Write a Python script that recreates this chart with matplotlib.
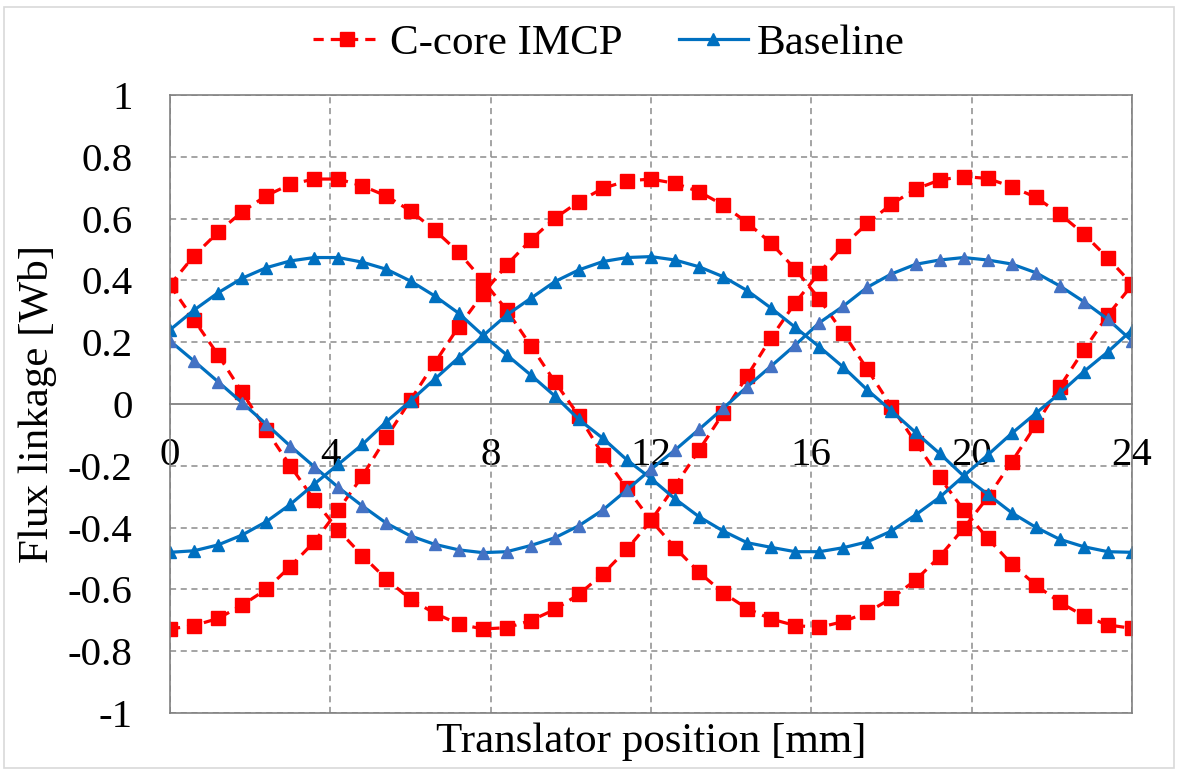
import numpy as np
import matplotlib
matplotlib.use("Agg")
import matplotlib.pyplot as plt
from matplotlib.patches import Rectangle

plt.rcParams['font.family'] = 'serif'
plt.rcParams['font.serif'] = ['Liberation Serif', 'DejaVu Serif']
plt.rcParams['axes.unicode_minus'] = False
SERIF = 'Liberation Serif'

# Translator position [mm], one sample every 0.6 mm
position = np.linspace(0, 24, 41)

# C-core IMCP flux linkage, three phases [Wb]
imcp_a = [-0.728, -0.717, -0.694, -0.651, -0.600, -0.526, -0.446, -0.343, -0.233, -0.108,
          0.013, 0.132, 0.250, 0.355, 0.450, 0.531, 0.601, 0.655, 0.698, 0.722,
          0.728, 0.714, 0.687, 0.644, 0.587, 0.520, 0.436, 0.340, 0.229, 0.112,
          -0.009, -0.125, -0.237, -0.343, -0.435, -0.518, -0.586, -0.642, -0.686, -0.715,
          -0.726]
imcp_b = [0.385, 0.480, 0.556, 0.622, 0.674, 0.711, 0.728, 0.728, 0.706, 0.673,
          0.625, 0.563, 0.491, 0.401, 0.304, 0.189, 0.072, -0.038, -0.165, -0.273,
          -0.377, -0.465, -0.545, -0.611, -0.662, -0.696, -0.717, -0.723, -0.704, -0.674,
          -0.629, -0.570, -0.494, -0.402, -0.302, -0.187, -0.068, 0.056, 0.175, 0.288,
          0.385]
imcp_c = [0.385, 0.272, 0.159, 0.038, -0.084, -0.200, -0.311, -0.408, -0.491, -0.567,
          -0.632, -0.677, -0.712, -0.728, -0.724, -0.701, -0.665, -0.616, -0.550, -0.470,
          -0.377, -0.265, -0.149, -0.030, 0.091, 0.215, 0.328, 0.425, 0.512, 0.585,
          0.647, 0.695, 0.725, 0.736, 0.730, 0.703, 0.669, 0.615, 0.550, 0.472,
          0.388]

# Baseline flux linkage, three phases [Wb]
base_a = [-0.480, -0.475, -0.456, -0.424, -0.381, -0.325, -0.259, -0.195, -0.131, -0.057,
          0.010, 0.080, 0.150, 0.220, 0.288, 0.342, 0.396, 0.434, 0.461, 0.474,
          0.477, 0.466, 0.444, 0.412, 0.367, 0.310, 0.248, 0.185, 0.119, 0.045,
          -0.022, -0.092, -0.160, -0.233, -0.292, -0.352, -0.399, -0.438, -0.462, -0.478,
          -0.480]
base_b = [0.240, 0.304, 0.360, 0.407, 0.441, 0.463, 0.474, 0.474, 0.459, 0.436,
          0.398, 0.350, 0.294, 0.223, 0.159, 0.094, 0.026, -0.050, -0.111, -0.181,
          -0.241, -0.307, -0.365, -0.411, -0.449, -0.464, -0.478, -0.478, -0.465, -0.446,
          -0.411, -0.359, -0.302, -0.233, -0.165, -0.095, -0.030, 0.035, 0.105, 0.169,
          0.240]
base_c = [0.204, 0.139, 0.072, 0.004, -0.065, -0.136, -0.203, -0.270, -0.330, -0.386,
          -0.427, -0.454, -0.472, -0.481, -0.478, -0.458, -0.433, -0.394, -0.343, -0.278,
          -0.211, -0.149, -0.082, -0.014, 0.056, 0.123, 0.191, 0.263, 0.317, 0.378,
          0.421, 0.452, 0.466, 0.474, 0.466, 0.453, 0.425, 0.382, 0.331, 0.274,
          0.204]

x_ticks = [0, 4, 8, 12, 16, 20, 24]
y_ticks = [-1, -0.8, -0.6, -0.4, -0.2, 0, 0.2, 0.4, 0.6, 0.8, 1]

RED = '#FF0000'
BLUE = '#0070C0'
BLUE_LIGHT = '#4472C4'
GRID = '#8C8C8C'
FS_TICK = 29.5
FS = 31

fig = plt.figure(figsize=(11.78, 7.72), dpi=100)
ax = fig.add_axes([170 / 1178, 1 - 713 / 772, 962 / 1178, 618 / 772])

red_style = dict(color=RED, lw=2.3, ls=(0, (3.2, 2.2)), marker='s', ms=10)
h_red = None
for ys in (imcp_a, imcp_b, imcp_c):
    line, = ax.plot(position, ys, **red_style)
    if h_red is None:
        h_red = line

blue_style = dict(color=BLUE, lw=2.3, ls='-', marker='^', ms=9)
h_blue, = ax.plot(position, base_a, **blue_style)
ax.plot(position, base_b, **blue_style)
ax.plot(position, base_c, mfc=BLUE_LIGHT, mec=BLUE_LIGHT, **blue_style)

ax.set_xlim(0, 24)
ax.set_ylim(-1, 1)
ax.set_xticks(x_ticks)
ax.set_yticks(y_ticks)
ax.set_yticklabels(['{:g}'.format(v) for v in y_ticks], family=SERIF, fontsize=FS_TICK)
ax.tick_params(axis='x', length=0, labelbottom=False)
ax.tick_params(axis='y', length=0, pad=27)
ax.grid(True, ls=(0, (4, 3)), color=GRID, lw=1.1)
ax.set_axisbelow(True)
for sp in ax.spines.values():
    sp.set_color('#808080')
    sp.set_linewidth(1.2)

# category axis crossing at y = 0, labels sit just below it
sec = ax.secondary_xaxis(0.5)
sec.xaxis.set_ticks_position('bottom')
sec.set_xticks(x_ticks)
sec.set_xticklabels([str(v) for v in x_ticks], family=SERIF, fontsize=FS_TICK)
sec.tick_params(axis='x', length=0, pad=24, labelbottom=True, labeltop=False)
for side in ('top', 'bottom'):
    sec.spines[side].set_color('#808080')
    sec.spines[side].set_linewidth(1.3)

ax.set_xlabel('Translator position [mm]', fontsize=FS, family=SERIF, va='center')
ax.xaxis.set_label_coords(0.5, -0.046)
ax.set_ylabel('Flux linkage [Wb]', fontsize=FS, family=SERIF, va='center')
ax.yaxis.set_label_coords(-0.138, 0.5)

ax.legend([h_red, h_blue], ['C-core IMCP', 'Baseline'], loc='center',
          bbox_to_anchor=(0.456, 1.083), ncol=2, frameon=False,
          prop=dict(family=SERIF, size=FS),
          handlelength=1.6, handletextpad=0.2, columnspacing=1.3)

fig.patches.append(Rectangle((4 / 1178, 1 - 768 / 772), 1170 / 1178, 761 / 772,
                             transform=fig.transFigure, fill=False,
                             edgecolor='#D9D9D9', lw=1.2))

fig.savefig('out.png', dpi=100)
